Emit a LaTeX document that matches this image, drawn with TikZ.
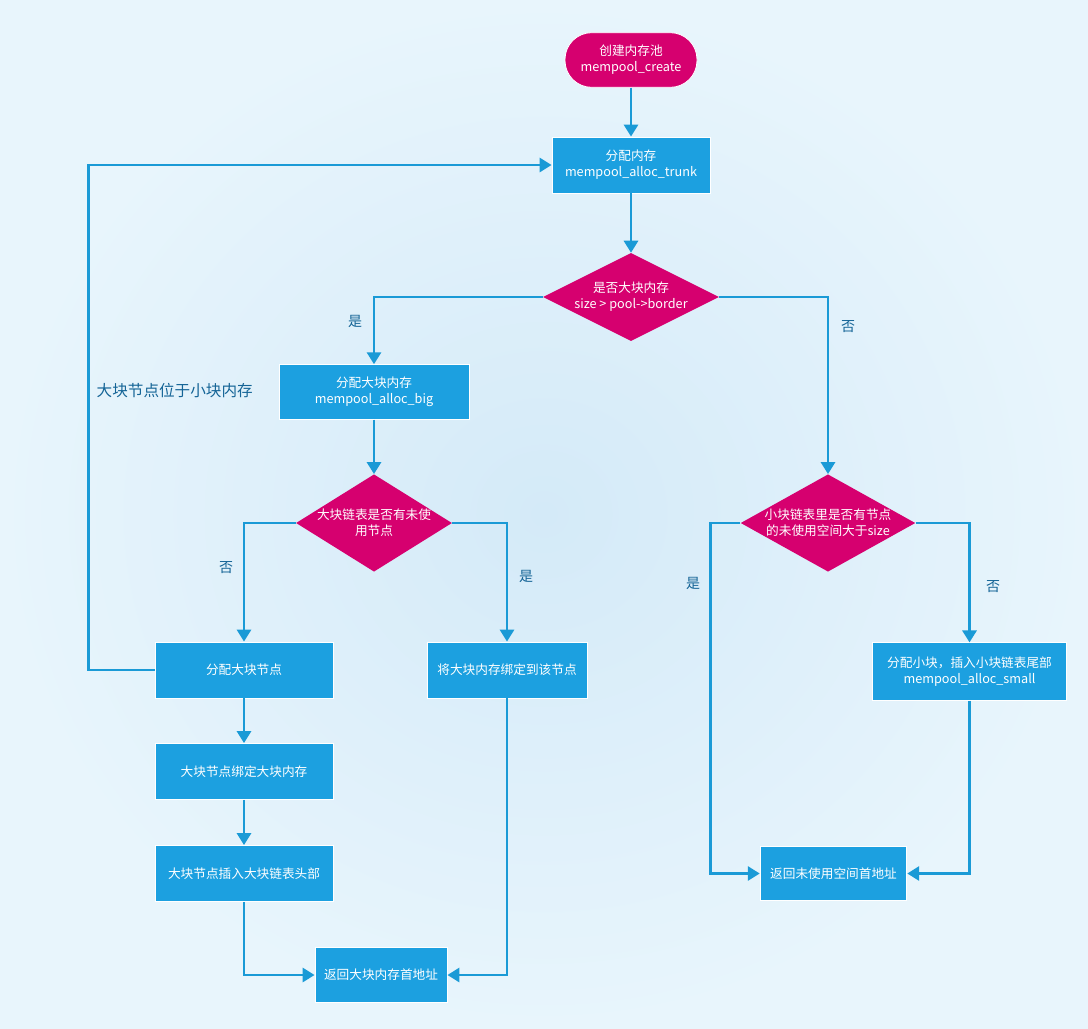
\documentclass[tikz,border=0pt]{standalone}
\usepackage{fontspec}
\setmainfont{Noto Sans CJK SC}
\usetikzlibrary{shapes.geometric,arrows.meta}

\definecolor{boxblue}{RGB}{28,160,224}
\definecolor{lineblue}{RGB}{26,154,214}
\definecolor{rosered}{RGB}{214,0,111}
\definecolor{labelblue}{RGB}{20,100,150}
\definecolor{bgin}{RGB}{212,234,248}
\definecolor{bgout}{RGB}{232,245,252}

\tikzset{
  process/.style={rectangle, fill=boxblue, draw=white, line width=0.6pt, text=white,
    align=center, inner sep=0pt, font=\fontsize{9.5}{12}\selectfont},
  startstop/.style={process, fill=rosered, rounded corners=20pt},
  decision/.style={diamond, fill=rosered, draw=none, text=white, align=center,
    inner sep=-12pt, font=\fontsize{9.5}{12}\selectfont},
  flow/.style={draw=lineblue, line width=2.2pt, -{Triangle[width=10.5pt,length=9pt]}},
  yesno/.style={text=labelblue, font=\fontsize{10.5}{12}\selectfont},
}

\begin{document}
\begin{tikzpicture}[x=0.75pt,y=-0.75pt]

% background
\shade[inner color=bgin, outer color=bgout] (0,0) rectangle (1088,1028);
\useasboundingbox (0,0) rectangle (1088,1028);

% nodes
\node[startstop, minimum width=99pt, minimum height=41pt] (create) at (631,60) {创建内存池\\mempool\_create};
\node[process, minimum width=118.5pt, minimum height=42pt] (trunk) at (631,165) {分配内存\\mempool\_alloc\_trunk};
\node[decision, minimum width=132pt, minimum height=66pt] (isbig) at (631,297) {是否大块内存\\size > pool->border};
\node[process, minimum width=142.5pt, minimum height=41pt] (allocbig) at (374,392) {分配大块内存\\mempool\_alloc\_big};
\node[decision, minimum width=117pt, minimum height=73pt] (hasfree) at (374,523) {大块链表是否有未使\\用节点};
\node[decision, minimum width=131pt, minimum height=73pt] (hasspace) at (828,523) {小块链表里是否有节点\\的未使用空间大于size};
\node[process, minimum width=133.5pt, minimum height=42pt] (bignode) at (244,670) {分配大块节点};
\node[process, minimum width=120pt, minimum height=42pt] (bindnode) at (507,670) {将大块内存绑定到该节点};
\node[process, minimum width=145pt, minimum height=43pt] (allocsmall) at (969.5,671.5) {分配小块，插入小块链表尾部\\mempool\_alloc\_small};
\node[process, minimum width=133.5pt, minimum height=42pt] (bindmem) at (244,771.5) {大块节点绑定大块内存};
\node[process, minimum width=133.5pt, minimum height=42pt] (inserthead) at (244,873.5) {大块节点插入大块链表头部};
\node[process, minimum width=110pt, minimum height=41pt] (retsmall) at (833.5,873.5) {返回未使用空间首地址};
\node[process, minimum width=99pt, minimum height=41pt] (retbig) at (381,975) {返回大块内存首地址};

% connectors
\draw[flow] (create) -- (trunk);
\draw[flow] (trunk) -- (isbig);
\draw[flow] (isbig.west) -| (allocbig.north);
\draw[flow] (isbig.east) -| (hasspace.north);
\draw[flow] (allocbig) -- (hasfree);
\draw[flow] (hasfree.west) -| (bignode.north);
\draw[flow] (hasfree.east) -| (bindnode.north);
\draw[flow] (bignode.west) -- ++(-66,0) coordinate (loopturn) |- (trunk.west);
\draw[flow] (bignode) -- (bindmem);
\draw[flow] (bindmem) -- (inserthead);
\draw[flow] (inserthead.south) |- (retbig.west);
\draw[flow] (bindnode.south) |- (retbig.east);
\draw[flow] (hasspace.west) -- ++(-30,0) |- (retsmall.west);
\draw[flow] (hasspace.east) -| (allocsmall.north);
\draw[flow] (allocsmall.south) |- (retsmall.east);

% labels
\node[yesno] (yesbig) at (355,321) {是};
\node[yesno] (nobig) at (848,327) {否};
\node[yesno] (nofree) at (226,568) {否};
\node[yesno] (yesfree) at (526,576) {是};
\node[yesno] (yesspace) at (693,583) {是};
\node[yesno] (nospace) at (993,587) {否};
\node[yesno, anchor=west, font=\fontsize{11.7}{14}\selectfont] (looplabel) at (92,391) {大块节点位于小块内存};

\end{tikzpicture}
\end{document}
